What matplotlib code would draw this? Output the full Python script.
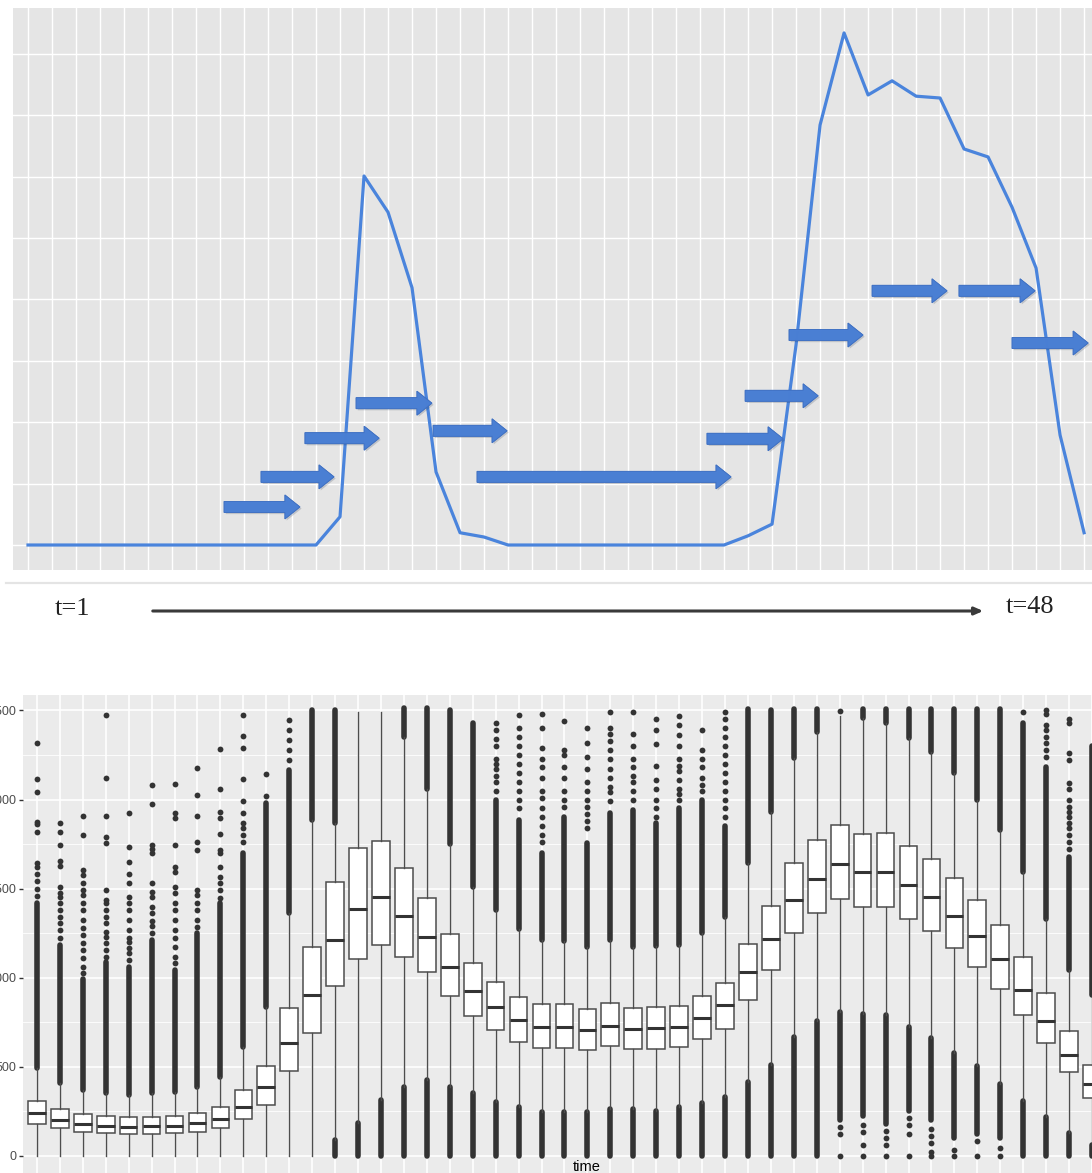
import numpy as np
import matplotlib
matplotlib.use('Agg')
import matplotlib.pyplot as plt
import matplotlib.patheffects as pe
from matplotlib.lines import Line2D
from matplotlib.patches import FancyArrowPatch

W, H = 1092, 1173

# ---- top panel: one day's load curve (grid units) ----
t_line = np.arange(1, 46)
load_line = [0, 0, 0, 0, 0, 0, 0, 0, 0, 0, 0, 0, 0,
             0.46, 6.01, 5.42, 4.19, 1.19, 0.20, 0.13,
             0, 0, 0, 0, 0, 0, 0, 0, 0, 0,
             0.15, 0.34, 3.26, 6.84, 8.34, 7.33, 7.56, 7.31, 7.28,
             6.45, 6.32, 5.50, 4.51, 1.79, 0.20]

# block arrows: start t, end t, level
arrow_start = [9.17, 10.71, 12.54, 14.67, 17.88, 19.71, 29.29, 30.88, 32.71, 36.17, 39.79, 42.0]
arrow_end = [12.33, 13.75, 15.63, 17.83, 20.96, 30.29, 32.46, 33.92, 35.79, 39.29, 42.96, 45.17]
arrow_level = [0.62, 1.11, 1.74, 2.31, 1.86, 1.11, 1.73, 2.43, 3.42, 4.14, 4.14, 3.29]

# ---- bottom panel: boxplots per time slot ----
time_idx = np.arange(1, 48)
box_q1 = [180, 152, 134, 125, 121, 120, 125, 132, 152, 203, 283, 475, 690, 952, 1106, 1180,
          1117, 1033, 896, 785, 703, 639, 606, 606, 593, 615, 598, 600, 609, 654, 710, 875,
          1042, 1248, 1364, 1439, 1398, 1398, 1330, 1259, 1164, 1061, 935, 789, 634, 467, 321]
box_med = [237, 199, 177, 167, 162, 165, 167, 181, 205, 274, 383, 630, 901, 1210, 1383, 1450,
           1345, 1225, 1057, 926, 832, 761, 724, 724, 705, 729, 709, 714, 724, 774, 845, 1029,
           1216, 1435, 1553, 1637, 1591, 1593, 1521, 1450, 1345, 1235, 1102, 930, 755, 564, 400]
box_q3 = [308, 259, 233, 222, 214, 218, 222, 240, 274, 368, 504, 830, 1169, 1534, 1729, 1769,
          1613, 1448, 1242, 1079, 975, 892, 849, 849, 823, 855, 830, 836, 842, 898, 967, 1186,
          1401, 1645, 1772, 1858, 1806, 1810, 1739, 1666, 1557, 1435, 1297, 1113, 915, 701, 508]
whisk_lo = [0, 0, 0, 0, 0, 0, 0, 0, 0, 0, 0, 0, 0, 85, 185, 312,
            385, 424, 383, 349, 302, 274, 246, 246, 246, 261, 259, 252, 274, 298, 330, 415,
            508, 667, 757, 808, 795, 789, 720, 658, 574, 503, 401, 308, 218, 124, 60]
whisk_hi = [489, 405, 368, 349, 340, 349, 358, 386, 443, 611, 836, 1360, 1885, 1866, 2493, 2493,
            2353, 2057, 1750, 1510, 1379, 1270, 1211, 1207, 1173, 1211, 1173, 1177, 1182, 1248, 1342, 1645,
            1931, 2231, 2381, 2470, 2456, 2428, 2343, 2269, 2147, 1997, 1828, 1594, 1328, 1042, 900]
# dense runs of outliers: above whisker up to dense_hi, below whisker down from dense_lo
dense_hi = [1420, 1180, 990, 1090, 1061, 1210, 1042, 1248, 1416, 1700, 1978, 2166, 2503, 2503, np.nan, np.nan,
            2512, 2512, 2503, 2430, 2000, 1885, 1700, 1903, 1754, 1922, 1941, 1866, 1950, 1997, 1850, 2510,
            2500, 2510, 2510, np.nan, 2510, 2510, 2510, 2510, 2510, 2510, 2510, 2428, 2184, 1679, 2300]
dense_lo = [np.nan] * 13 + [0, 0, 0,
            0, 0, 0, 0, 0, 0, 0, 0, 0, 0, 0, 0, 0, 0, 0, 0,
            0, 0, 0, 200, 220, 180, 250, 200, 100, 120, 100, 0, 0, 0, 0]
outlier_pts = [
    [1460, 1500, 1545, 1580, 1620, 1645, 1819, 1860, 1875, 2044, 2113, 2315],
    [1220, 1267, 1304, 1342, 1379, 1416, 1454, 1473, 1510, 1628, 1656, 1744, 1819, 1866],
    [1023, 1061, 1108, 1154, 1192, 1239, 1276, 1323, 1379, 1416, 1463, 1491, 1529, 1576, 1604, 1800, 1907],
    [1117, 1154, 1192, 1230, 1257, 1304, 1340, 1379, 1416, 1435, 1491, 1757, 1791, 1907, 2119, 2475],
    [1100, 1140, 1164, 1200, 1220, 1267, 1323, 1379, 1416, 1454, 1529, 1579, 1651, 1735, 1926],
    [1250, 1290, 1320, 1360, 1398, 1454, 1482, 1529, 1697, 1720, 1744, 1973, 2081],
    [1079, 1117, 1173, 1220, 1267, 1323, 1379, 1416, 1473, 1510, 1594, 1622, 1744, 1894, 1926, 2085],
    [1285, 1323, 1379, 1416, 1463, 1491, 1716, 1763, 1907, 2025, 2179],
    [1445, 1491, 1529, 1566, 1622, 1697, 1716, 1806, 1894, 1931, 2059, 2284],
    [1760, 1800, 1840, 1870, 1926, 1990, 2113, 2287, 2358, 2475],
    [2019, 2143],
    [2222, 2280, 2334, 2390, 2446],
    [], [], [], [], [], [], [], [],
    [2050, 2100, 2130, 2170, 2200, 2230, 2300, 2340, 2390, 2428],
    [1950, 2000, 2050, 2100, 2150, 2200, 2250, 2300, 2350, 2400, 2475],
    [1760, 1800, 1850, 1900, 1950, 2010, 2050, 2120, 2180, 2230, 2290, 2400, 2480],
    [1960, 2000, 2050, 2120, 2180, 2250, 2280, 2440],
    [1840, 1880, 1920, 1960, 2000, 2050, 2100, 2170, 2240, 2320, 2400],
    [1990, 2040, 2070, 2120, 2170, 2230, 2280, 2330, 2370, 2400, 2490],
    [2000, 2050, 2100, 2130, 2180, 2230, 2300, 2370, 2490],
    [1900, 1950, 2000, 2060, 2110, 2190, 2310, 2390, 2450],
    [2000, 2030, 2060, 2110, 2160, 2190, 2230, 2300, 2360, 2420, 2470],
    [2050, 2080, 2120, 2180, 2230, 2280, 2390],
    [1900, 1950, 2000, 2050, 2100, 2150, 2200, 2250, 2300, 2350, 2400, 2450, 2490],
    [], [], [], [],
    [0, 120, 160, 2499],
    [0, 60, 130, 170],
    [0, 60, 100, 140],
    [0, 120, 170, 210],
    [0, 20, 70, 110, 150],
    [0, 30],
    [0, 80],
    [0, 40],
    [2490],
    [2240, 2280, 2320, 2350, 2390, 2420, 2480, 2500],
    [1720, 1760, 1800, 1840, 1870, 1900, 1930, 1960, 2000, 2060, 2090, 2220, 2260, 2430, 2450],
    [],
]


def frame(l, t, r, b):
    return [l / W, 1 - b / H, (r - l) / W, (b - t) / H]


fig = plt.figure(figsize=(W / 100, H / 100), dpi=100)

# ================= top panel =================
ax1 = fig.add_axes(frame(13, 8, 1092, 570))
ax1.set_facecolor('#e5e5e5')
ax1.set_xlim(0.375, 45.33)
ax1.set_ylim(-0.407, 8.746)
ax1.set_xticks(np.arange(1, 46))
ax1.set_yticks(np.arange(0, 9))
ax1.grid(True, color='white', lw=1.0)
ax1.set_axisbelow(True)
ax1.tick_params(length=0, labelbottom=False, labelleft=False)
for s in ax1.spines.values():
    s.set_visible(False)

ax1.plot(t_line, load_line, color='#4a84dc', lw=2.3, zorder=2)

for s0, s1, lv in zip(arrow_start, arrow_end, arrow_level):
    ax1.arrow(s0, lv, s1 - s0, 0, width=0.179, head_width=0.39, head_length=0.625,
              length_includes_head=True, fc='#4a7fd4', ec='#3f70c2', lw=0.6, alpha=0.92, zorder=3,
              path_effects=[pe.withSimplePatchShadow(offset=(1.2, -1.2), alpha=0.18), pe.Normal()])

# separator and time axis sketch
fig.add_artist(Line2D([6 / W, 1], [1 - 583 / H, 1 - 583 / H], color='#e4e4e4', lw=1.6))
fig.text(72 / W, 1 - 609 / H, 't=1', ha='center', va='center', fontsize=19,
         family='Liberation Serif', color='#222222')
fig.text(1030 / W, 1 - 607 / H, 't=48', ha='center', va='center', fontsize=19,
         family='Liberation Serif', color='#222222')
fig.add_artist(FancyArrowPatch((150 / W, 1 - 611 / H), (986 / W, 1 - 611 / H),
                               transform=fig.transFigure, arrowstyle='-|>,head_length=5,head_width=2.2',
                               mutation_scale=1, color='#3a3a3a', lw=2.2))

# ================= bottom panel =================
ax2 = fig.add_axes(frame(23, 695, 1092, 1173))
ax2.set_facecolor('#ebebeb')
ax2.set_xlim(0.394, 46.75)
ax2.set_ylim(-98, 2587)

for i, x in enumerate(time_idx):
    if not np.isnan(dense_hi[i]):
        ax2.vlines(x, whisk_hi[i], dense_hi[i], colors='#333333', lw=4.0, capstyle='round', zorder=2)
    if not np.isnan(dense_lo[i]):
        ax2.vlines(x, dense_lo[i], whisk_lo[i], colors='#333333', lw=4.0, capstyle='round', zorder=2)

stats = []
for i in range(len(time_idx)):
    stats.append(dict(q1=box_q1[i], med=box_med[i], q3=box_q3[i],
                      whislo=whisk_lo[i], whishi=whisk_hi[i], fliers=outlier_pts[i]))
ax2.bxp(stats, positions=time_idx, widths=0.77, showcaps=False, patch_artist=True, manage_ticks=False,
        boxprops=dict(facecolor='white', edgecolor='#4d4d4d', lw=1.1),
        medianprops=dict(color='#333333', lw=2.2),
        whiskerprops=dict(color='#4d4d4d', lw=1.0),
        flierprops=dict(marker='o', markerfacecolor='#333333', markeredgecolor='none', markersize=4.2))

ax2.set_xticks(time_idx)
ax2.set_yticks(np.arange(0, 2501, 500))
ax2.set_yticks(np.arange(250, 2500, 500), minor=True)
ax2.grid(True, which='major', color='white', lw=1.2)
ax2.grid(True, which='minor', axis='y', color='white', lw=0.6)
ax2.set_axisbelow(True)
ax2.tick_params(axis='x', length=0, labelbottom=False)
ax2.tick_params(axis='y', which='major', length=3, width=1, color='#333333',
                labelcolor='#4d4d4d', labelsize=9, pad=2)
ax2.tick_params(axis='y', which='minor', length=0)
for lab in ax2.get_yticklabels():
    lab.set_family('Liberation Sans')
for s in ax2.spines.values():
    s.set_visible(False)

fig.text(587 / W, 1 - 1167 / H, 'time', ha='center', va='center', fontsize=10.5,
         family='Liberation Sans', color='black')

fig.savefig('out.png', dpi=100)
